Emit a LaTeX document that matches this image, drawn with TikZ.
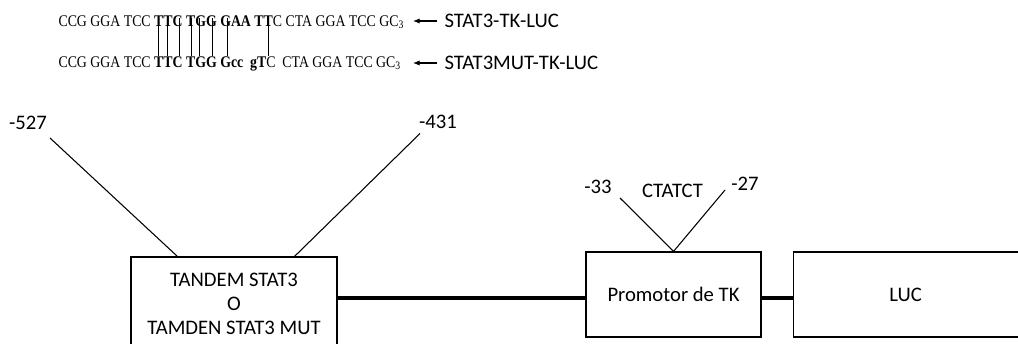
\documentclass[tikz,border=0pt]{standalone}
\usepackage{fontspec}
\setmainfont{Carlito}
\newfontfamily\seqfont[FakeStretch=0.85]{Liberation Serif}
\usetikzlibrary{positioning,calc,arrows.meta}

\begin{document}
\begin{tikzpicture}[x=0.75pt,y=-0.75pt,
    line width=0.8pt,
    txt/.style={inner sep=0pt,font=\fontsize{15.5}{18}\selectfont},
    seq/.style={inner sep=0pt,anchor=base west,font=\seqfont\fontsize{12.2}{14}\selectfont},
    box/.style={draw,line width=0.8pt,font=\fontsize{15.5}{18}\selectfont,align=center},
    link/.style={line width=3pt}]
    \useasboundingbox (0,0) rectangle (1018,343);

    % sequences
    \node[seq] (seqwt) at (58,26.5) {CCG GGA TCC \textbf{TTC TGG GAA TT}C CTA GGA TCC GC\textsubscript{3}};
    \node[seq] (seqmut) at (58,67.5) {CCG GGA TCC \textbf{TTC TGG Gcc~ gT}C~ CTA GGA TCC GC\textsubscript{3}};
    \node[txt,anchor=west] (labwt) at (444,21) {STAT3-TK-LUC};
    \node[txt,anchor=west] (labmut) at (444,63) {STAT3MUT-TK-LUC};
    \draw[-{Latex[length=5pt,width=4pt]},shorten <=5pt] (labwt.west) -- (labwt.west -| 413,0);
    \draw[-{Latex[length=5pt,width=4pt]},shorten <=5pt] (labmut.west) -- (labmut.west -| 413,0);
    \foreach \x in {158,167,179,191,199,212,227,268}
        \draw[line width=0.6pt] (\x,18) -- (\x,56);

    % construct
    \node[box,minimum width=154.5pt,minimum height=69.75pt] (tandem) at (234,303.5)
        {TANDEM STAT3\\O\\TAMDEN STAT3 MUT};
    \node[box,minimum width=131.25pt,minimum height=63.75pt] (tk) at (673.5,294.5) {Promotor de TK};
    \node[box,minimum width=168.75pt,minimum height=63.75pt,right=23.25pt of tk] (luc) {LUC};
    \coordinate (row) at (0,298);
    \draw[link] (tandem.east |- row) -- (tk.west |- row);
    \draw[link] (tk.east |- row) -- (luc.west |- row);

    % positions
    \node[txt] (p527) at (28,123) {-527};
    \node[txt] (p431) at (438,121.5) {-431};
    \draw ($(p527)+(22,15)$) -- ($(tandem.north west)+(47,0)$);
    \draw ($(p431)+(-18,12)$) -- ($(tandem.north west)+(164,0)$);

    \node[txt] (p33) at (598,187) {-33};
    \node[txt] (ctatct) at (672.5,191) {CTATCT};
    \node[txt] (p27) at (745,184) {-27};
    \draw ($(p33)+(22,11)$) -- (tk.north) -- ($(p27)+(-20,6)$);
\end{tikzpicture}
\end{document}
